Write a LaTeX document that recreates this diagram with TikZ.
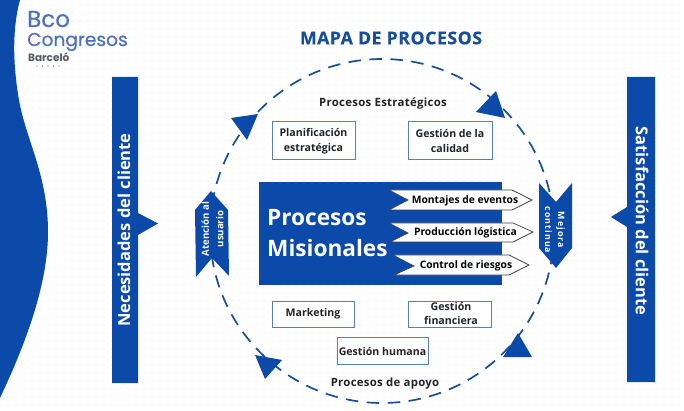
\documentclass[tikz,border=0pt]{standalone}
\usepackage{fontspec}
\setmainfont{Open Sans}
\newfontfamily\spacedfont{Open Sans}[LetterSpace=2.5]
\newfontfamily\titlefont{Open Sans}[LetterSpace=3,FakeBold=0.4]
\newfontfamily\chevfont{Open Sans}[LetterSpace=12]
\newfontfamily\logofont{Poppins}[FakeBold=0.5]
\newfontfamily\logosmall{Poppins}
\definecolor{mainblue}{HTML}{0B4AA8}
\definecolor{dashblue}{HTML}{174E9C}
\definecolor{boxline}{HTML}{5C80AC}
\definecolor{logoblue}{HTML}{4F70BC}
\definecolor{logogray}{HTML}{55585E}
\definecolor{dotgray}{HTML}{F0F0F2}
\definecolor{inktext}{HTML}{222428}
\tikzset{
  x=1pt,y=-1pt,
  bluefill/.style={fill=mainblue,draw=none},
  procbox/.style={draw=boxline,line width=1pt,fill=white,text=inktext,font=\fontsize{10.6}{14.5}\selectfont\bfseries,align=center,inner sep=0pt},
  arrowbox/.style={draw=black!75,line width=.7pt,fill=white},
  arrowtext/.style={text=black,font=\fontsize{10.3}{12}\selectfont\bfseries,inner sep=0pt},
  headtext/.style={text=inktext,font=\spacedfont\fontsize{11.4}{12}\selectfont\bfseries,inner sep=0pt},
  sidetext/.style={text=white,font=\fontsize{16.5}{19}\selectfont\bfseries,inner sep=0pt},
  loop/.style={draw=dashblue,line width=1.7pt,dash pattern=on 12.5pt off 8.5pt}
}
\begin{document}
\begin{tikzpicture}
\useasboundingbox (0,0) rectangle (684,411);
\fill[white] (0,0) rectangle (684,411);
% dotted paper
\foreach \i in {0,...,85}{\foreach \j in {0,...,51}{
  \fill[dotgray] ({8*\i},{5+8*\j}) circle (.8pt);
}}
% swoosh
\fill[mainblue] (0,0) -- (20,0) .. controls (13,25) and (12,60) .. (19,100)
  .. controls (26,140) and (48,175) .. (48,232)
  .. controls (48,285) and (25,345) .. (0,398) -- cycle;
% loop
\coordinate (loopc) at (382,231);
\draw[loop] (loopc) circle (172);
% arrowheads of the loop
\fill[mainblue] (231,118) -- (258,114) -- (247,140) -- cycle;
\fill[mainblue] (496,91) -- (476,112) -- (505,118) -- cycle;
\fill[mainblue] (518,333) -- (503,357) -- (532,357) -- cycle;
\fill[mainblue] (255,355) -- (282,360) -- (265,379) -- cycle;
% side bars
\fill[bluefill] (112,77) -- (138,77) -- (138,213) -- (158,223.5) -- (138,235) -- (138,383) -- (112,383) -- cycle;
\fill[bluefill] (627,77) -- (655,77) -- (655,382) -- (627,382) -- (627,227) -- (611,217) -- (627,207) -- cycle;
\node[sidetext,rotate=90] (need) at (124,230) {Necesidades del cliente};
\node[sidetext,rotate=-90] (sat) at (642,221) {Satisfacción del cliente};
% chevrons
\fill[bluefill] (211,191) -- (228,210) -- (229,276) -- (212,258) -- (196,277) -- (195,210) -- cycle;
\node[text=white,font=\fontsize{9.6}{14.5}\selectfont\bfseries,align=center,inner sep=0pt,rotate=90] (aten) at (212.5,229) {Atención al\\usuario};
\fill[bluefill] (539,183) -- (556,202) -- (572,183) -- (572,248) -- (556,268) -- (539,248) -- cycle;
\node[text=white,font=\chevfont\fontsize{8.8}{13}\selectfont\bfseries,align=center,inner sep=0pt,rotate=-90] (mej) at (555,230) {Mejora\\continua};
% main block
\fill[bluefill] (259,182) rectangle (502,285);
\node[text=white,font=\fontsize{22.6}{31}\selectfont\bfseries,align=left,anchor=west,inner sep=0pt] (mis) at (267,233) {Procesos\\Misionales};
% pointed labels
\draw[arrowbox] (389,190) -- (408,200) -- (389,210) -- (512,210) -- (532,200) -- (512,190) -- cycle;
\draw[arrowbox] (389,223) -- (408,233) -- (390,242) -- (513,242) -- (533,232) -- (513,223) -- cycle;
\draw[arrowbox] (393,255) -- (414,266) -- (394,275) -- (509,275) -- (529,265) -- (509,255) -- cycle;
\node[arrowtext] (m1) at (465,201) {Montajes de eventos};
\node[arrowtext] (m2) at (465.5,233) {Producción lógistica};
\node[arrowtext] (m3) at (466,266) {Control de riesgos};
% boxes
\node[procbox,minimum width=83pt,minimum height=38pt] (plan) at (313.5,141) {Planificación\\estratégica};
\node[procbox,minimum width=84pt,minimum height=38pt] (cal) at (450,141) {Gestión de la\\calidad};
\node[procbox,minimum width=82pt,minimum height=26pt] (mkt) at (313,314) {Marketing};
\node[procbox,minimum width=83pt,minimum height=26pt] (fin) at (449.5,314) {};
\node[text=inktext,align=center,inner sep=0pt,font=\fontsize{10.6}{14.5}\selectfont\bfseries] (fint) at (451,313.5) {Gestión\\financiera};
\node[procbox,minimum width=91pt,minimum height=27pt] (hum) at (382.5,351) {Gestión humana};
\node[headtext] (est) at (383,104) {Procesos Estratégicos};
\node[headtext] (apo) at (385,384) {Procesos de apoyo};
% title
\node[text=dashblue,font=\titlefont\fontsize{17.7}{18}\selectfont\bfseries,inner sep=0pt] (title) at (391,38) {MAPA DE PROCESOS};
% logo
\node[anchor=base west,text=logoblue,font=\logofont\fontsize{23}{23}\selectfont,inner sep=0pt,text height=16pt,text depth=0pt] (l1) at (27,27) {Bco};
\node[anchor=base west,text=logoblue,font=\logofont\fontsize{18.6}{20}\selectfont,inner sep=0pt,text height=13pt,text depth=4pt] (l2) at (27,46) {Congresos};
\node[anchor=base west,text=logogray,font=\logosmall\fontsize{10.5}{12}\selectfont\bfseries,inner sep=0pt,text height=8pt,text depth=0pt] (l3) at (28,61.5) {Barceló};
\foreach \i in {0,...,4}{\fill[logogray] ({37+5.5*\i},66) circle (.7pt);}
\end{tikzpicture}
\end{document}
